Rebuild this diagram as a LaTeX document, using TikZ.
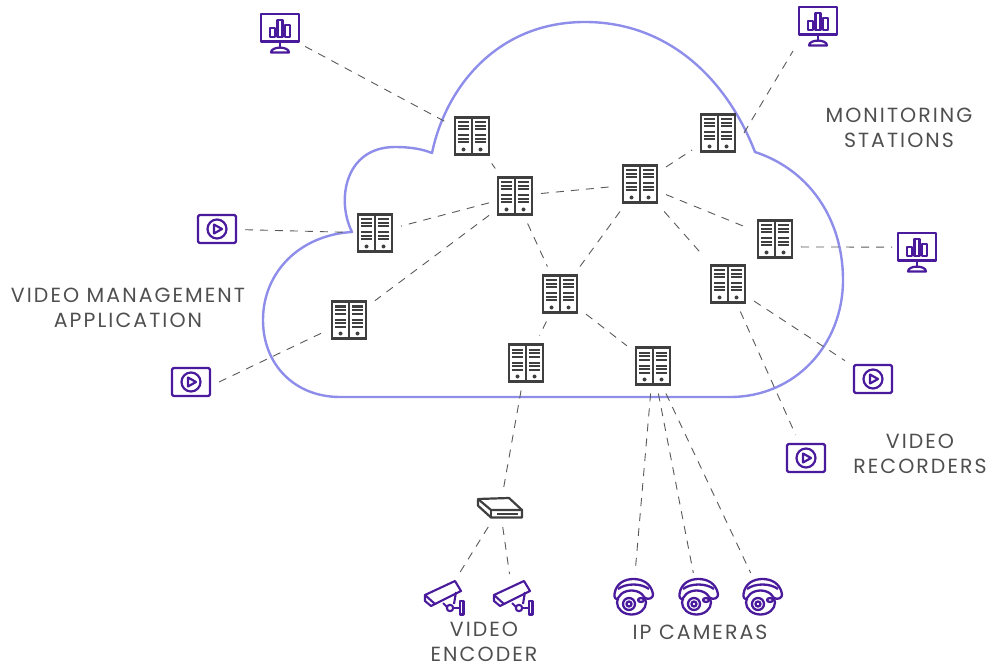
\documentclass[tikz,border=0pt]{standalone}
\usepackage{fontspec}
\setmainfont{Poppins}[LetterSpace=10]
\definecolor{cloudBlue}{HTML}{8E8EEA}
\definecolor{iconPurple}{HTML}{4A1A9C}
\definecolor{iconGray}{HTML}{3F3F3F}
\definecolor{textGray}{HTML}{4F4F4F}
\tikzstyle{cloudStyle}=[draw = cloudBlue, line width = 2.4pt, line join = round]
\tikzstyle{linkStyle}=[draw = black!65, line width = 0.9pt, dash pattern = on 8pt off 7pt]
\tikzstyle{labelStyle}=[align = center, text = textGray, font = \fontsize{20.5}{25}\selectfont, inner sep = 0pt]
\tikzstyle{serverStyle}=[shape = rectangle, minimum width = 38pt, minimum height = 41pt, inner sep = 0pt, outer sep = 7pt, path picture = {
  \begin{scope}[shift = {(path picture bounding box.center)}]
  \draw[iconGray, line width = 2.8pt] (-17,-18.5) rectangle (17,18.5);
  \draw[iconGray, line width = 2pt] (0,-18.5) -- (0,18.5);
  \foreach \sx in {-14,3} {
    \foreach \sy in {-13.5,-10,-6.5,-0.5,3,6.5} {
      \draw[iconGray, line width = 2pt] (\sx,\sy) -- (\sx+11,\sy);
    }
    \fill[iconGray] (\sx+5.5,13.5) circle (2);
  }
  \end{scope}}]
\tikzstyle{monitorStyle}=[shape = rectangle, minimum width = 42pt, minimum height = 42pt, inner sep = 0pt, outer sep = 4pt, path picture = {
  \begin{scope}[shift = {(path picture bounding box.center)}, iconPurple, line width = 2.2pt, line join = round]
  \draw (-19,-19) rectangle (19,8.5);
  \draw (-10,3.7) rectangle (-5,-5);
  \draw (-2.5,3.7) rectangle (2.5,-13);
  \draw (5,3.7) rectangle (10,-8);
  \draw (0,8.5) -- (0,15);
  \draw (-9,19.5) .. controls (-9,13) and (9,13) .. (9,19.5) -- cycle;
  \end{scope}}]
\tikzstyle{playerStyle}=[shape = rectangle, minimum width = 42pt, minimum height = 32pt, inner sep = 0pt, outer sep = 7pt, path picture = {
  \begin{scope}[shift = {(path picture bounding box.center)}, iconPurple, line width = 2.2pt, line join = round]
  \draw[rounded corners = 1.5pt] (-19,-14) rectangle (19,14);
  \draw (0,0) circle (9.5);
  \draw (-3,-4.5) -- (5,0) -- (-3,4.5) -- cycle;
  \end{scope}}]
\tikzstyle{encoderStyle}=[shape = rectangle, minimum width = 50pt, minimum height = 26pt, inner sep = 0pt, outer sep = 6pt, path picture = {
  \begin{scope}[shift = {(path picture bounding box.center)}, iconGray, line width = 2.2pt, line join = round]
  \draw (-22,-9) -- (9,-10) -- (22,2) -- (22,9.5) -- (-9,9.5) -- (-22,-2.3) -- cycle;
  \draw (-22,-9) -- (-9,2) -- (22,2);
  \draw (-9,2) -- (-9,9.5);
  \draw[line width = 1.8pt] (-3,5.7) -- (18,5.7);
  \end{scope}}]
\tikzstyle{boxcamStyle}=[shape = rectangle, minimum width = 44pt, minimum height = 40pt, inner sep = 0pt, outer sep = 4pt, path picture = {
  \begin{scope}[shift = {(path picture bounding box.center)}, iconPurple, line width = 2.1pt, line join = round]
  \draw (-19,-3) -- (11,-17) -- (17,-7) -- (-9,6) -- cycle;
  \draw (-19,-3) -- (-19,3) -- (-13,8) -- (-8,5.5);
  \draw (-1,5) -- (3,9);
  \draw (12,-6) -- (10,6);
  \draw (6,10) circle (3.2);
  \draw (9,10) -- (16,10);
  \draw (16,3) rectangle (19.5,16.5);
  \end{scope}}]
\tikzstyle{domecamStyle}=[shape = rectangle, minimum width = 46pt, minimum height = 42pt, inner sep = 0pt, outer sep = 3pt, path picture = {
  \begin{scope}[shift = {(path picture bounding box.center)}, iconPurple, line width = 2.3pt, line join = round]
  \draw (-18.5,-3) .. controls (-17,-14) and (-8,-18) .. (0.5,-18) .. controls (9,-18) and (18,-14) .. (20,-3) .. controls (20.5,1) and (16,3) .. (12,1);
  \draw (-18.5,-3) .. controls (-19,1) and (-17,3) .. (-14,2);
  \draw (-15,-8) .. controls (-7,-14) and (8,-14) .. (16,-8);
  \draw[rotate around = {-12:(-1.5,5.5)}] (-1.5,5.5) ellipse (14.5 and 12);
  \draw (-4,7) circle (6);
  \draw (-4,7) circle (2.5);
  \draw (8,3) ellipse (3 and 2);
  \end{scope}}]
\begin{document}
\begin{tikzpicture}[x = 1pt, y = -1pt]
\useasboundingbox (0,0) rectangle (993,668);
% cloud outline
\draw[cloudStyle] (340,397) .. controls (295,397) and (263,365) .. (263,320)
  .. controls (263,272) and (300,235) .. (352,232)
  .. controls (336,200) and (345,147) .. (395,147)
  .. controls (410,147) and (422,149) .. (432,153)
  .. controls (445,90) and (495,22) .. (585,22)
  .. controls (665,22) and (725,75) .. (755,152)
  .. controls (810,170) and (843,220) .. (843,280)
  .. controls (843,345) and (795,397) .. (730,397) -- cycle;
% servers
\node[serverStyle] (srvA) at (472,136) {};
\node[serverStyle] (srvB) at (515,196) {};
\node[serverStyle] (srvC) at (640,184) {};
\node[serverStyle] (srvD) at (718,133) {};
\node[serverStyle] (srvE) at (775,239) {};
\node[serverStyle] (srvF) at (728,284) {};
\node[serverStyle] (srvG) at (560,294) {};
\node[serverStyle] (srvH) at (349,320) {};
\node[serverStyle] (srvI) at (375,233) {};
\node[serverStyle] (srvJ) at (526,363) {};
\node[serverStyle] (srvK) at (653,366) {};
% monitoring stations
\node[monitorStyle] (monA) at (280,33) {};
\node[monitorStyle] (monB) at (818,26) {};
\node[monitorStyle] (monC) at (917,252) {};
% players
\node[playerStyle] (playA) at (217,229) {};
\node[playerStyle] (playB) at (191,382) {};
\node[playerStyle] (playC) at (873,379) {};
\node[playerStyle] (playD) at (806,458) {};
% encoder and cameras
\node[encoderStyle] (enc) at (500,508) {};
\node[boxcamStyle] (boxA) at (444,598) {};
\node[boxcamStyle] (boxB) at (513,598) {};
\node[domecamStyle] (domeA) at (633,597) {};
\node[domecamStyle] (domeB) at (698,597) {};
\node[domecamStyle] (domeC) at (762,597) {};
% links
\draw[linkStyle] (monA) -- (srvA);
\draw[linkStyle] (srvA) -- (srvB);
\draw[linkStyle] (srvB) -- (srvI);
\draw[linkStyle] (srvB) -- (srvC);
\draw[linkStyle] (srvB) -- (srvG);
\draw[linkStyle] (srvB) -- (srvH);
\draw[linkStyle] (srvC) -- (srvD);
\draw[linkStyle] (srvD.east) -- (monB.south west);
\draw[linkStyle] (srvC) -- (srvE);
\draw[linkStyle] (srvC) -- (srvF);
\draw[linkStyle] (srvC) -- (srvG);
\draw[linkStyle] (srvG) -- (srvJ);
\draw[linkStyle] (srvG) -- (srvK);
\draw[linkStyle] (srvE.-17) -- (monC.169);
\draw[linkStyle] (srvF) -- (playC);
\draw[linkStyle] (srvF) -- (playD);
\draw[linkStyle] (playA) -- (srvI);
\draw[linkStyle] (playB.east) -- (srvH);
\draw[linkStyle] (srvJ) -- (enc);
\draw[linkStyle] (enc) -- (boxA);
\draw[linkStyle] (enc) -- (boxB);
\draw[linkStyle] (srvK) -- (domeA);
\draw[linkStyle] (srvK) -- (domeB);
\draw[linkStyle] (srvK) -- (domeC);
% labels
\node[labelStyle] (lblMon) at (899,128) {MONITORING\\STATIONS};
\node[labelStyle] (lblApp) at (128,308) {VIDEO MANAGEMENT\\APPLICATION};
\node[labelStyle] (lblRec) at (920,454) {VIDEO\\RECORDERS};
\node[labelStyle] (lblEnc) at (484,642) {VIDEO\\ENCODER};
\node[labelStyle] (lblCam) at (700,632) {IP CAMERAS};
\end{tikzpicture}
\end{document}
